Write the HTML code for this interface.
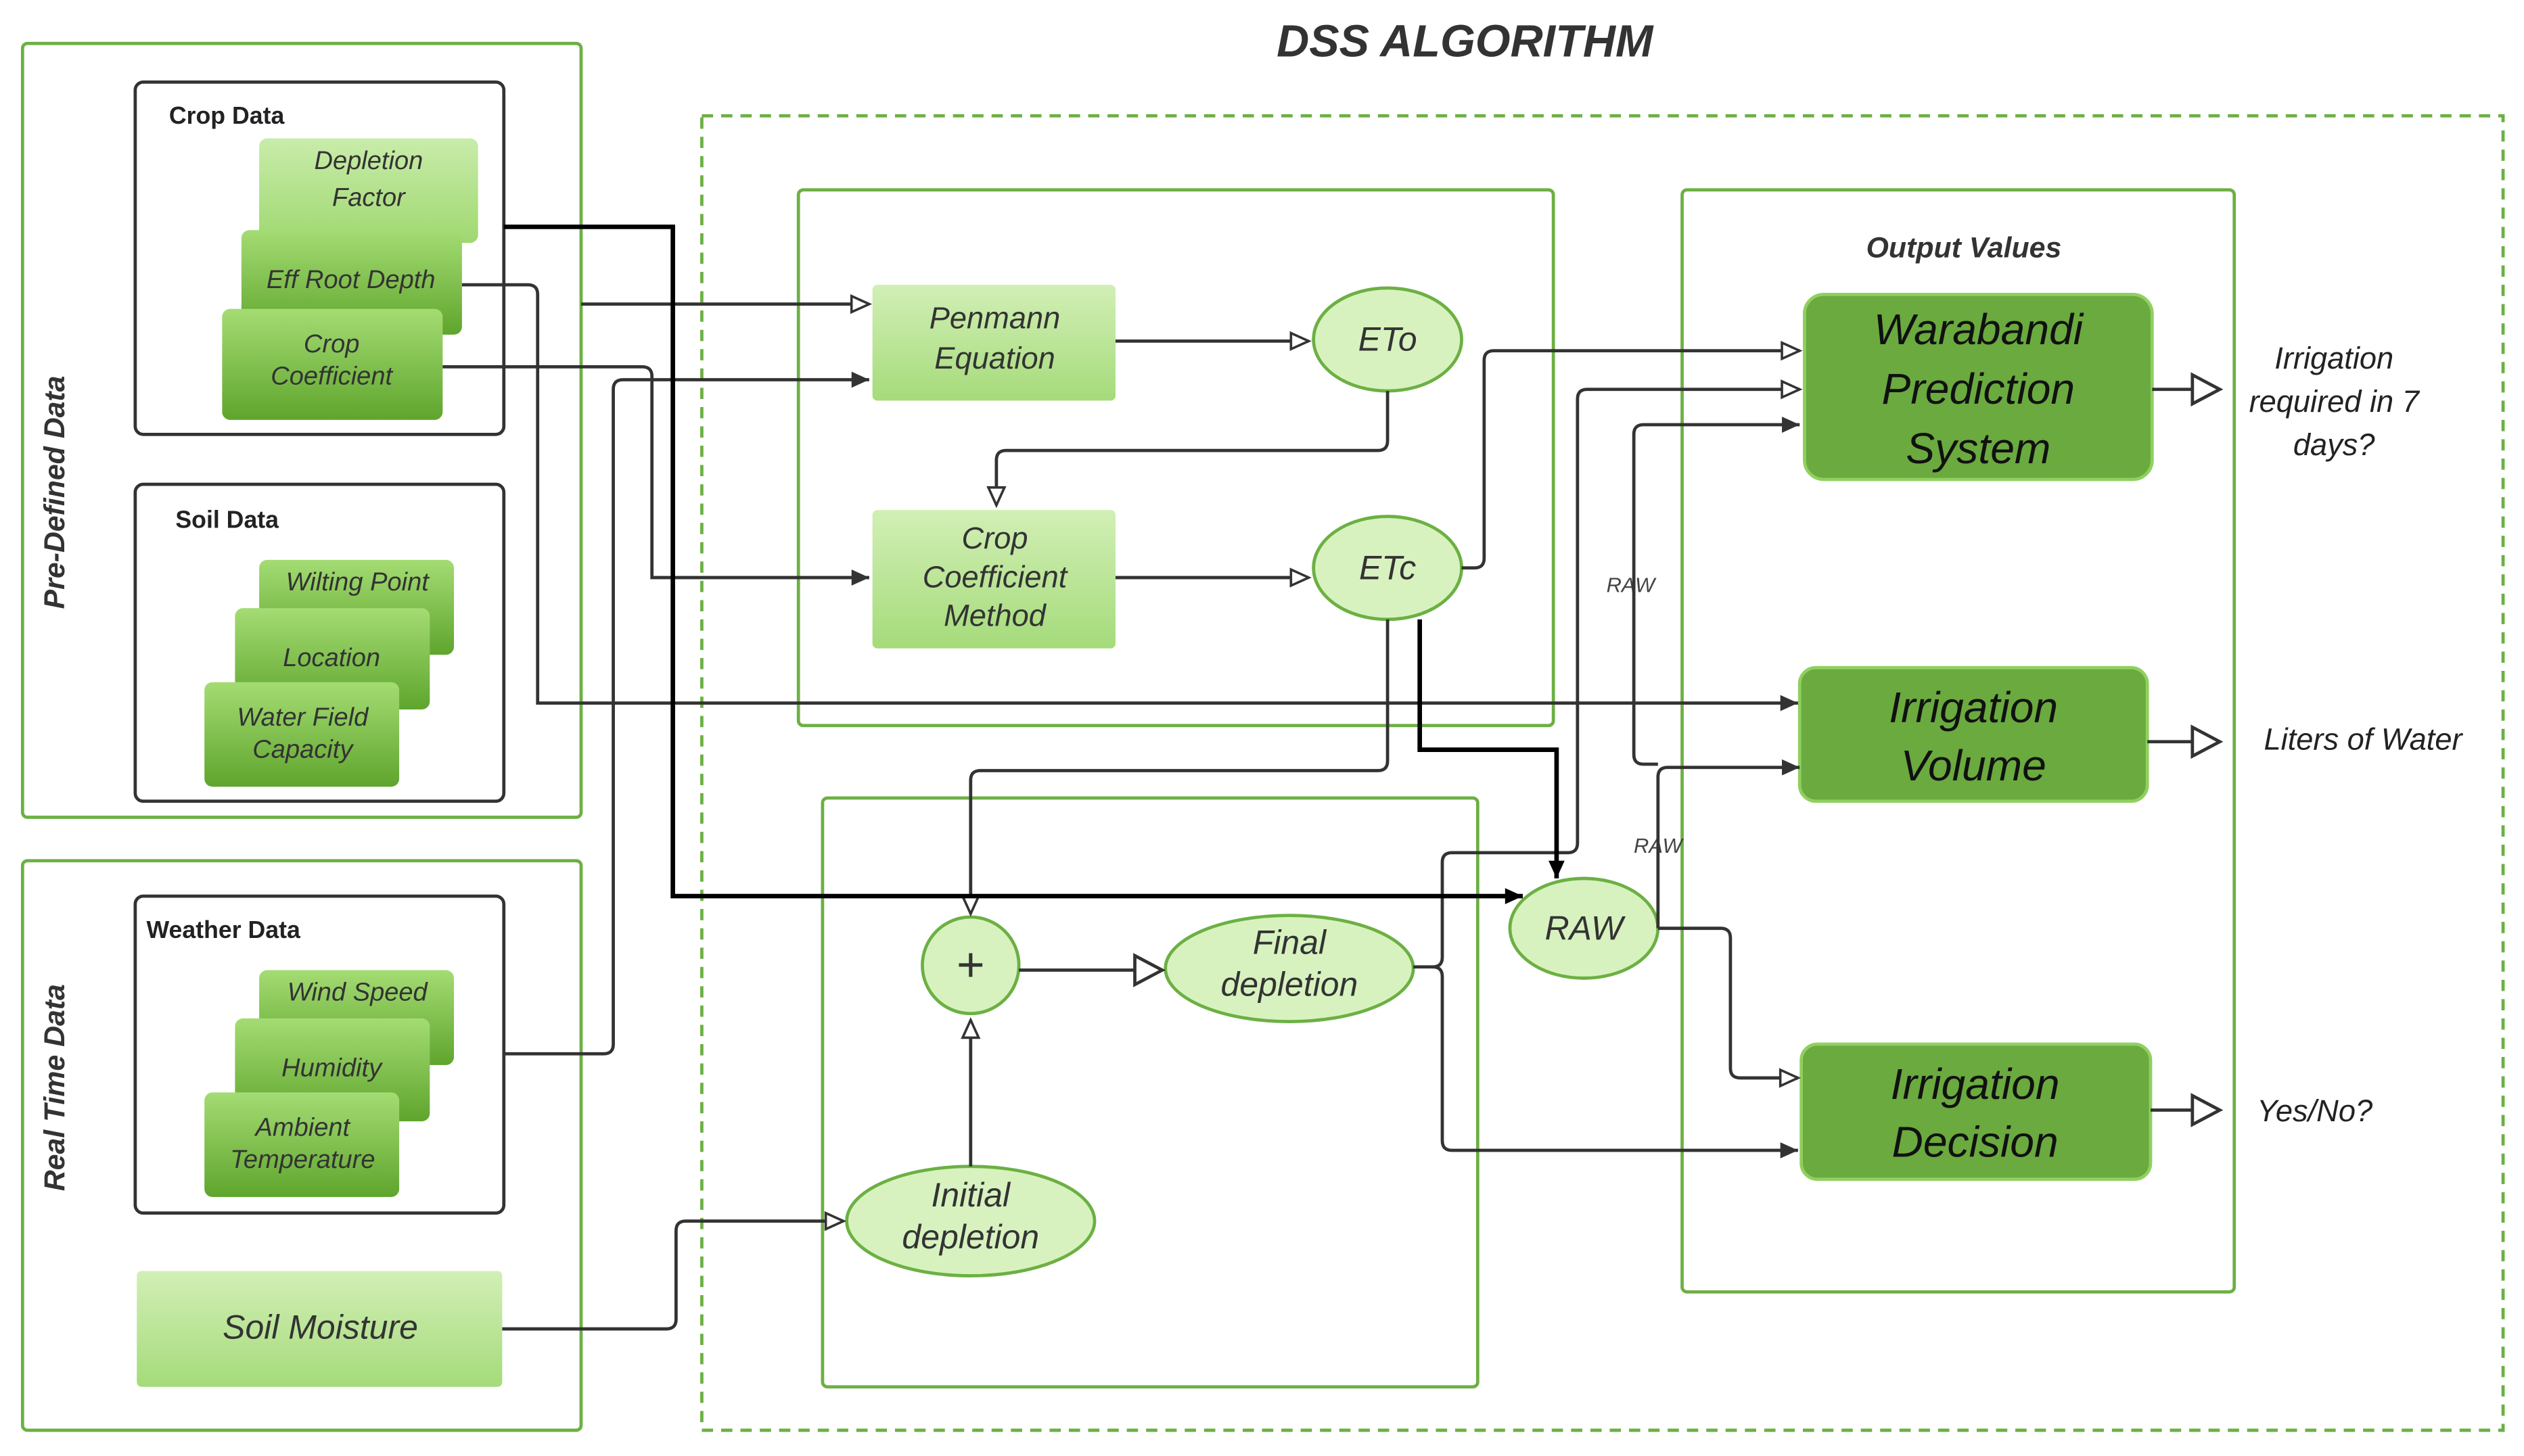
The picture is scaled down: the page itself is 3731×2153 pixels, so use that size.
<!DOCTYPE html>
<html><head><meta charset="utf-8"><style>html,body{margin:0;padding:0;background:#fff}svg{display:block}</style></head>
<body>
<svg width="3731" height="2153" viewBox="0 0 1568 905" preserveAspectRatio="none" xmlns="http://www.w3.org/2000/svg" font-family="Liberation Sans, sans-serif">
<defs>
<linearGradient id="lg" x1="0" y1="0" x2="0" y2="1"><stop offset="0" stop-color="#c9ecaa"/><stop offset="1" stop-color="#9fd870"/></linearGradient>
<linearGradient id="mg" x1="0" y1="0" x2="0" y2="1"><stop offset="0" stop-color="#a4dc73"/><stop offset="1" stop-color="#5fa52d"/></linearGradient>
<linearGradient id="pg" x1="0" y1="0" x2="0" y2="1"><stop offset="0" stop-color="#d2efb6"/><stop offset="1" stop-color="#a5db7a"/></linearGradient>
<marker id="ao" markerWidth="14" markerHeight="14" refX="12" refY="7" orient="auto" markerUnits="userSpaceOnUse"><path d="M1,2 L12,7 L1,12 Z" fill="#fff" stroke="#333" stroke-width="1.5"/></marker>
<marker id="aob" markerWidth="22" markerHeight="22" refX="19" refY="11" orient="auto" markerUnits="userSpaceOnUse"><path d="M2,2 L19,11 L2,20 Z" fill="#fff" stroke="#333" stroke-width="2"/></marker>
<marker id="af" markerWidth="14" markerHeight="14" refX="12" refY="7" orient="auto" markerUnits="userSpaceOnUse"><path d="M1,2 L12,7 L1,12 Z" fill="#333"/></marker>
<marker id="afk" markerWidth="14" markerHeight="14" refX="12" refY="7" orient="auto" markerUnits="userSpaceOnUse"><path d="M1,2 L12,7 L1,12 Z" fill="#000"/></marker>
</defs>
<rect width="1568" height="905" fill="#fff"/>
<text x="910" y="35" text-anchor="middle" font-size="28" font-weight="bold" font-style="italic" fill="#333">DSS ALGORITHM</text>
<g fill="none" stroke="#6cb043" stroke-width="2">
<rect x="14" y="27" width="347" height="481" rx="3"/>
<rect x="14" y="535" width="347" height="354" rx="3"/>
<rect x="436" y="72" width="1119" height="817" stroke-dasharray="7,5"/>
<rect x="496" y="118" width="469" height="333" rx="3"/>
<rect x="511" y="496" width="407" height="366" rx="3"/>
<rect x="1045" y="118" width="343" height="685" rx="3"/>
</g>
<g fill="none" stroke="#333" stroke-width="2">
<rect x="84" y="51" width="229" height="219" rx="5"/>
<rect x="84" y="301" width="229" height="197" rx="5"/>
<rect x="84" y="557" width="229" height="197" rx="5"/>
</g>
<g font-size="15" font-weight="bold" fill="#222">
<text x="105" y="77">Crop Data</text>
<text x="109" y="328">Soil Data</text>
<text x="91" y="583">Weather Data</text>
</g>
<text transform="translate(40,306) rotate(-90)" text-anchor="middle" font-size="18" font-weight="bold" font-style="italic" fill="#333">Pre-Defined Data</text>
<text transform="translate(40,676) rotate(-90)" text-anchor="middle" font-size="18" font-weight="bold" font-style="italic" fill="#333">Real Time Data</text>
<!-- stacked cards -->
<g font-size="16" font-style="italic" fill="#333" text-anchor="middle">
<rect x="161" y="86" width="136" height="65" rx="5" fill="url(#lg)"/>
<text x="229" y="105">Depletion</text><text x="229" y="128">Factor</text>
<rect x="150" y="143" width="137" height="65" rx="5" fill="url(#mg)"/>
<text x="218" y="179">Eff Root Depth</text>
<rect x="138" y="192" width="137" height="69" rx="5" fill="url(#mg)"/>
<text x="206" y="219">Crop</text><text x="206" y="239">Coefficient</text>
<rect x="161" y="348" width="121" height="59" rx="5" fill="url(#mg)"/>
<text x="222" y="367">Wilting Point</text>
<rect x="146" y="378" width="121" height="63" rx="5" fill="url(#mg)"/>
<text x="206" y="414">Location</text>
<rect x="127" y="424" width="121" height="65" rx="5" fill="url(#mg)"/>
<text x="188" y="451">Water Field</text><text x="188" y="471">Capacity</text>
<rect x="161" y="603" width="121" height="59" rx="5" fill="url(#mg)"/>
<text x="222" y="622">Wind Speed</text>
<rect x="146" y="633" width="121" height="64" rx="5" fill="url(#mg)"/>
<text x="206" y="669">Humidity</text>
<rect x="127" y="679" width="121" height="65" rx="5" fill="url(#mg)"/>
<text x="188" y="706">Ambient</text><text x="188" y="726">Temperature</text>
</g>
<rect x="85" y="790" width="227" height="72" rx="3" fill="url(#pg)"/>
<text x="199" y="832" text-anchor="middle" font-size="21" font-style="italic" fill="#333">Soil Moisture</text>
<!-- process nodes -->
<g font-size="19" font-style="italic" fill="#333" text-anchor="middle">
<rect x="542" y="177" width="151" height="72" rx="3" fill="url(#pg)"/>
<text x="618" y="204">Penmann</text><text x="618" y="229">Equation</text>
<rect x="542" y="317" width="151" height="86" rx="3" fill="url(#pg)"/>
<text x="618" y="341">Crop</text><text x="618" y="365">Coefficient</text><text x="618" y="389">Method</text>
</g>
<g fill="#d7f2bf" stroke="#6cb043" stroke-width="2">
<ellipse cx="862" cy="211" rx="46" ry="32"/>
<ellipse cx="862" cy="353" rx="46" ry="32"/>
<ellipse cx="984" cy="577" rx="46" ry="31"/>
<ellipse cx="801" cy="602" rx="77" ry="33"/>
<ellipse cx="603" cy="759" rx="77" ry="34"/>
<circle cx="603" cy="600" r="30"/>
</g>
<g font-size="21" font-style="italic" fill="#333" text-anchor="middle">
<text x="862" y="218">ETo</text><text x="862" y="360">ETc</text><text x="984" y="584">RAW</text>
<text x="801" y="593">Final</text><text x="801" y="619">depletion</text>
<text x="603" y="750">Initial</text><text x="603" y="776">depletion</text>
<text x="603" y="610" font-size="30" font-style="normal">+</text>
</g>
<!-- output -->
<text x="1220" y="160" text-anchor="middle" font-size="18" font-weight="bold" font-style="italic" fill="#333">Output Values</text>
<g fill="#6aaa3f" stroke="#8fd05f" stroke-width="2">
<rect x="1121" y="183" width="216" height="115" rx="12"/>
<rect x="1118" y="415" width="216" height="83" rx="10"/>
<rect x="1119" y="649" width="217" height="84" rx="10"/>
</g>
<g font-size="27" font-style="italic" fill="#111" text-anchor="middle">
<text x="1229" y="214">Warabandi</text><text x="1229" y="251">Prediction</text><text x="1229" y="288">System</text>
<text x="1226" y="449">Irrigation</text><text x="1226" y="485">Volume</text>
<text x="1227" y="683">Irrigation</text><text x="1227" y="719">Decision</text>
</g>
<g font-size="19" font-style="italic" fill="#222" text-anchor="middle">
<text x="1450" y="229">Irrigation</text><text x="1450" y="256">required in 7</text><text x="1450" y="283">days?</text>
<text x="1468" y="466">Liters of Water</text>
<text x="1438" y="697">Yes/No?</text>
</g>
<text x="1013" y="368" text-anchor="middle" font-size="13" font-style="italic" fill="#444">RAW</text>
<text x="1030" y="530" text-anchor="middle" font-size="13" font-style="italic" fill="#444">RAW</text>
<!-- connectors -->
<g fill="none" stroke="#333" stroke-width="2">
<path d="M287,177 H328 Q334,177 334,183 V437 H1117" marker-end="url(#af)"/>
<path d="M275,228 H399 Q405,228 405,234 V359 H540" marker-end="url(#af)"/>
<path d="M361,189 H540" marker-end="url(#ao)"/>
<path d="M313,655 H375 Q381,655 381,649 V242 Q381,236 387,236 H540" marker-end="url(#af)"/>
<path d="M693,212 H813" marker-end="url(#ao)"/>
<path d="M862,243 V274 Q862,280 856,280 H625 Q619,280 619,286 V314" marker-end="url(#ao)"/>
<path d="M693,359 H813" marker-end="url(#ao)"/>
<path d="M908,353 H916 Q922,353 922,347 V224 Q922,218 928,218 H1118" marker-end="url(#ao)"/>
<path d="M862,385 V473 Q862,479 856,479 H609 Q603,479 603,485 V568" marker-end="url(#ao)"/>
<path d="M633,603 H722" marker-end="url(#aob)"/>
<path d="M603,725 V634" marker-end="url(#ao)"/>
<path d="M312,826 H414 Q420,826 420,820 V765 Q420,759 426,759 H524" marker-end="url(#ao)"/>
<path d="M878,601 H890 Q896,601 896,595 V536 Q896,530 902,530 H974 Q980,530 980,524 V248 Q980,242 986,242 H1118" marker-end="url(#ao)"/>
<path d="M890,601 Q896,601 896,607 V709 Q896,715 902,715 H1117" marker-end="url(#af)"/>
<path d="M1030,475 H1021 Q1015,475 1015,469 V270 Q1015,264 1021,264 H1118" marker-end="url(#af)"/>
<path d="M1030,577 V483 Q1030,477 1036,477 H1118" marker-end="url(#af)"/>
<path d="M1030,577 H1069 Q1075,577 1075,583 V664 Q1075,670 1081,670 H1117" marker-end="url(#ao)"/>
<path d="M1337,242 H1379" marker-end="url(#aob)"/>
<path d="M1334,461 H1379" marker-end="url(#aob)"/>
<path d="M1336,690 H1379" marker-end="url(#aob)"/>
</g>
<g fill="none" stroke="#000" stroke-width="2.8">
<path d="M313,141 H418 V557 H946" marker-end="url(#afk)"/>
<path d="M882,385 V466 H967 V546" marker-end="url(#afk)"/>
</g>
</svg>
</body></html>
